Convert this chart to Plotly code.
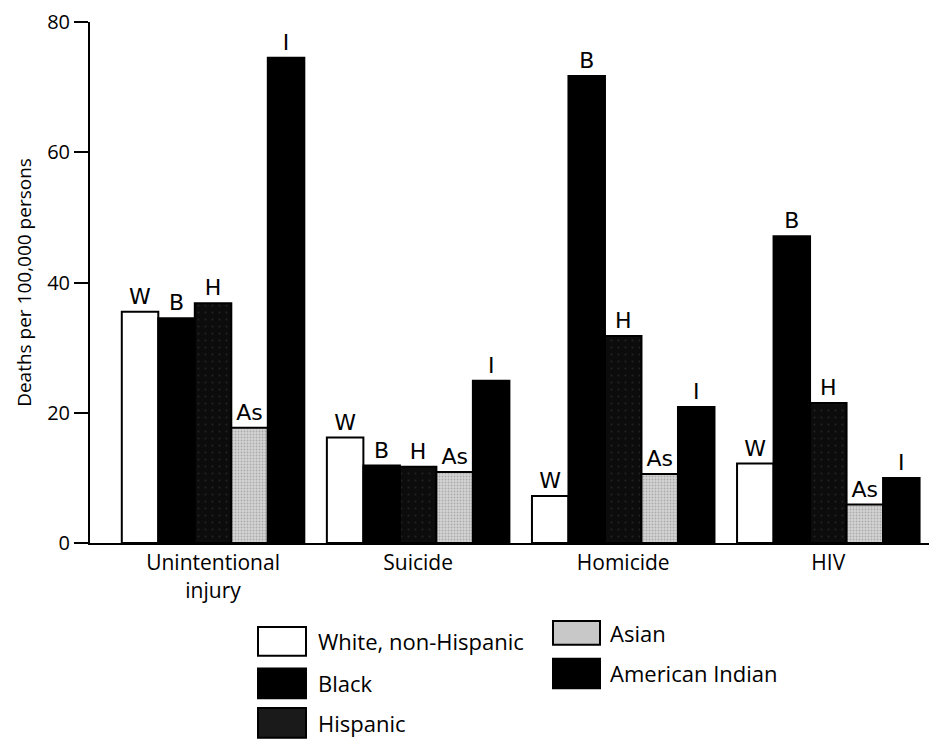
import plotly.graph_objects as go

categories = ["Unintentional<br>injury", "Suicide", "Homicide", "HIV"]
groups = ["White, non-Hispanic", "Black", "Hispanic", "Asian", "American Indian"]
bar_tags = ["W", "B", "H", "As", "I"]

white_vals = [35.5, 16.2, 7.2, 12.2]
black_vals = [34.5, 11.9, 71.7, 47.1]
hispanic_vals = [36.8, 11.7, 31.8, 21.5]
asian_vals = [17.7, 10.9, 10.6, 5.9]
indian_vals = [74.5, 24.9, 20.9, 10.0]

y_ticks = [0, 20, 40, 60, 80]

series = [white_vals, black_vals, hispanic_vals, asian_vals, indian_vals]
fills = ["#ffffff", "#000000", "#0c0c0c", "#c8c8c8", "#000000"]
patterns = [
    None,
    None,
    dict(shape=".", fgcolor="#3a3a3a", bgcolor="#0c0c0c", size=7, solidity=0.06),
    dict(shape=".", fgcolor="#808080", bgcolor="#d4d4d4", size=3, solidity=0.3),
    None,
]

FONT = "Open Sans"
fig = go.Figure()
for name, vals, col, pat, tag in zip(groups, series, fills, patterns, bar_tags):
    marker = dict(color=col, line=dict(color="#000000", width=2))
    if pat:
        marker["pattern"] = pat
    fig.add_trace(go.Bar(
        name=name, x=categories, y=vals, marker=marker,
        text=[tag] * len(vals), textposition="outside",
        textfont=dict(family="DejaVu Sans", size=22, color="#000000"),
        cliponaxis=False, showlegend=False,
    ))

# page body has an 8px margin, so the figure is shifted by (8, 8)
fig.update_layout(
    width=929, height=734,
    margin=dict(l=82, r=0, t=8, b=199),
    paper_bgcolor="#ffffff", plot_bgcolor="#ffffff",
    barmode="group", bargap=0.11, bargroupgap=0,
    font=dict(family=FONT, size=21, color="#000000"),
    xaxis=dict(range=[-0.6, 3.53], showline=True, linecolor="#000000", linewidth=2,
               ticks="", showgrid=False, zeroline=False,
               tickfont=dict(family=FONT, size=21)),
    yaxis=dict(range=[0, 80], tickvals=y_ticks, showline=True, linecolor="#000000",
               linewidth=2, ticks="outside", ticklen=14, tickwidth=2, tickcolor="#000000",
               showgrid=False, zeroline=False, tickfont=dict(family=FONT, size=20),
               ticklabeloverflow="allow",
               title=dict(text="Deaths per 100,000 persons", font=dict(family=FONT, size=19),
                          standoff=10)),
)

# manual legend (two columns), positions given in screen pixels of the plot area
legend_items = [
    (groups[0], fills[0], 258, 306, 628, 657, 316),
    (groups[1], fills[1], 258, 306, 670, 700, 316),
    (groups[2], "#1a1a1a", 258, 306, 710, 740, 316),
    (groups[3], "#c8c8c8", 553, 600, 622, 646, 608),
    (groups[4], fills[4], 553, 600, 660, 690, 608),
]
PL, PR, PT, PB = 90, 937, 16, 543
for label, col, x0, x1, y0, y1, tx in legend_items:
    fig.add_shape(type="rect", xref="paper", yref="paper",
                  x0=(x0 - PL) / (PR - PL), x1=(x1 - PL) / (PR - PL),
                  y0=(PB - y1) / (PB - PT), y1=(PB - y0) / (PB - PT),
                  fillcolor=col, line=dict(color="#000000", width=2))
    fig.add_annotation(xref="paper", yref="paper",
                       x=(tx - PL) / (PR - PL), y=(PB - (y0 + y1) / 2) / (PB - PT),
                       text=label, showarrow=False, xanchor="left", yanchor="middle",
                       font=dict(family=FONT, size=22, color="#000000"))

fig.write_html("out.html")
